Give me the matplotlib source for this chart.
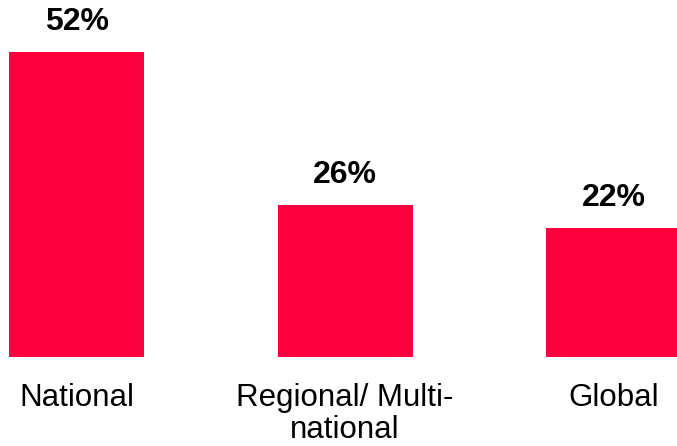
import matplotlib.pyplot as plt

categories = ["National", "Regional/ Multi-\nnational", "Global"]
values = [52, 26, 22]
bar_color = "#FF003F"

plt.rcParams['font.family'] = ['Liberation Sans', 'DejaVu Sans']

fig = plt.figure(figsize=(6.77, 4.46), dpi=100)
ax = fig.add_axes([0, 0, 1, 1])

x = list(range(len(values)))
bars = ax.bar(x, values, width=0.503, color=bar_color)

# value labels above each bar
for xi, v in zip(x, values):
    ax.annotate(f"{v}%", (xi, v), xytext=(0, 10.5), textcoords="offset points",
                ha="center", va="bottom", fontsize=23, fontweight="bold")

# category labels under the bars
for xi, name in zip(x, categories):
    ax.annotate(name, (xi, 0), xytext=(0, -18.5), textcoords="offset points",
                ha="center", va="top", fontsize=22.5, linespacing=1.12)

ax.set_xlim(-0.285, 2.236)
ax.set_ylim(-15.17, 60.87)
ax.axis("off")

fig.savefig("out.png", dpi=100)
